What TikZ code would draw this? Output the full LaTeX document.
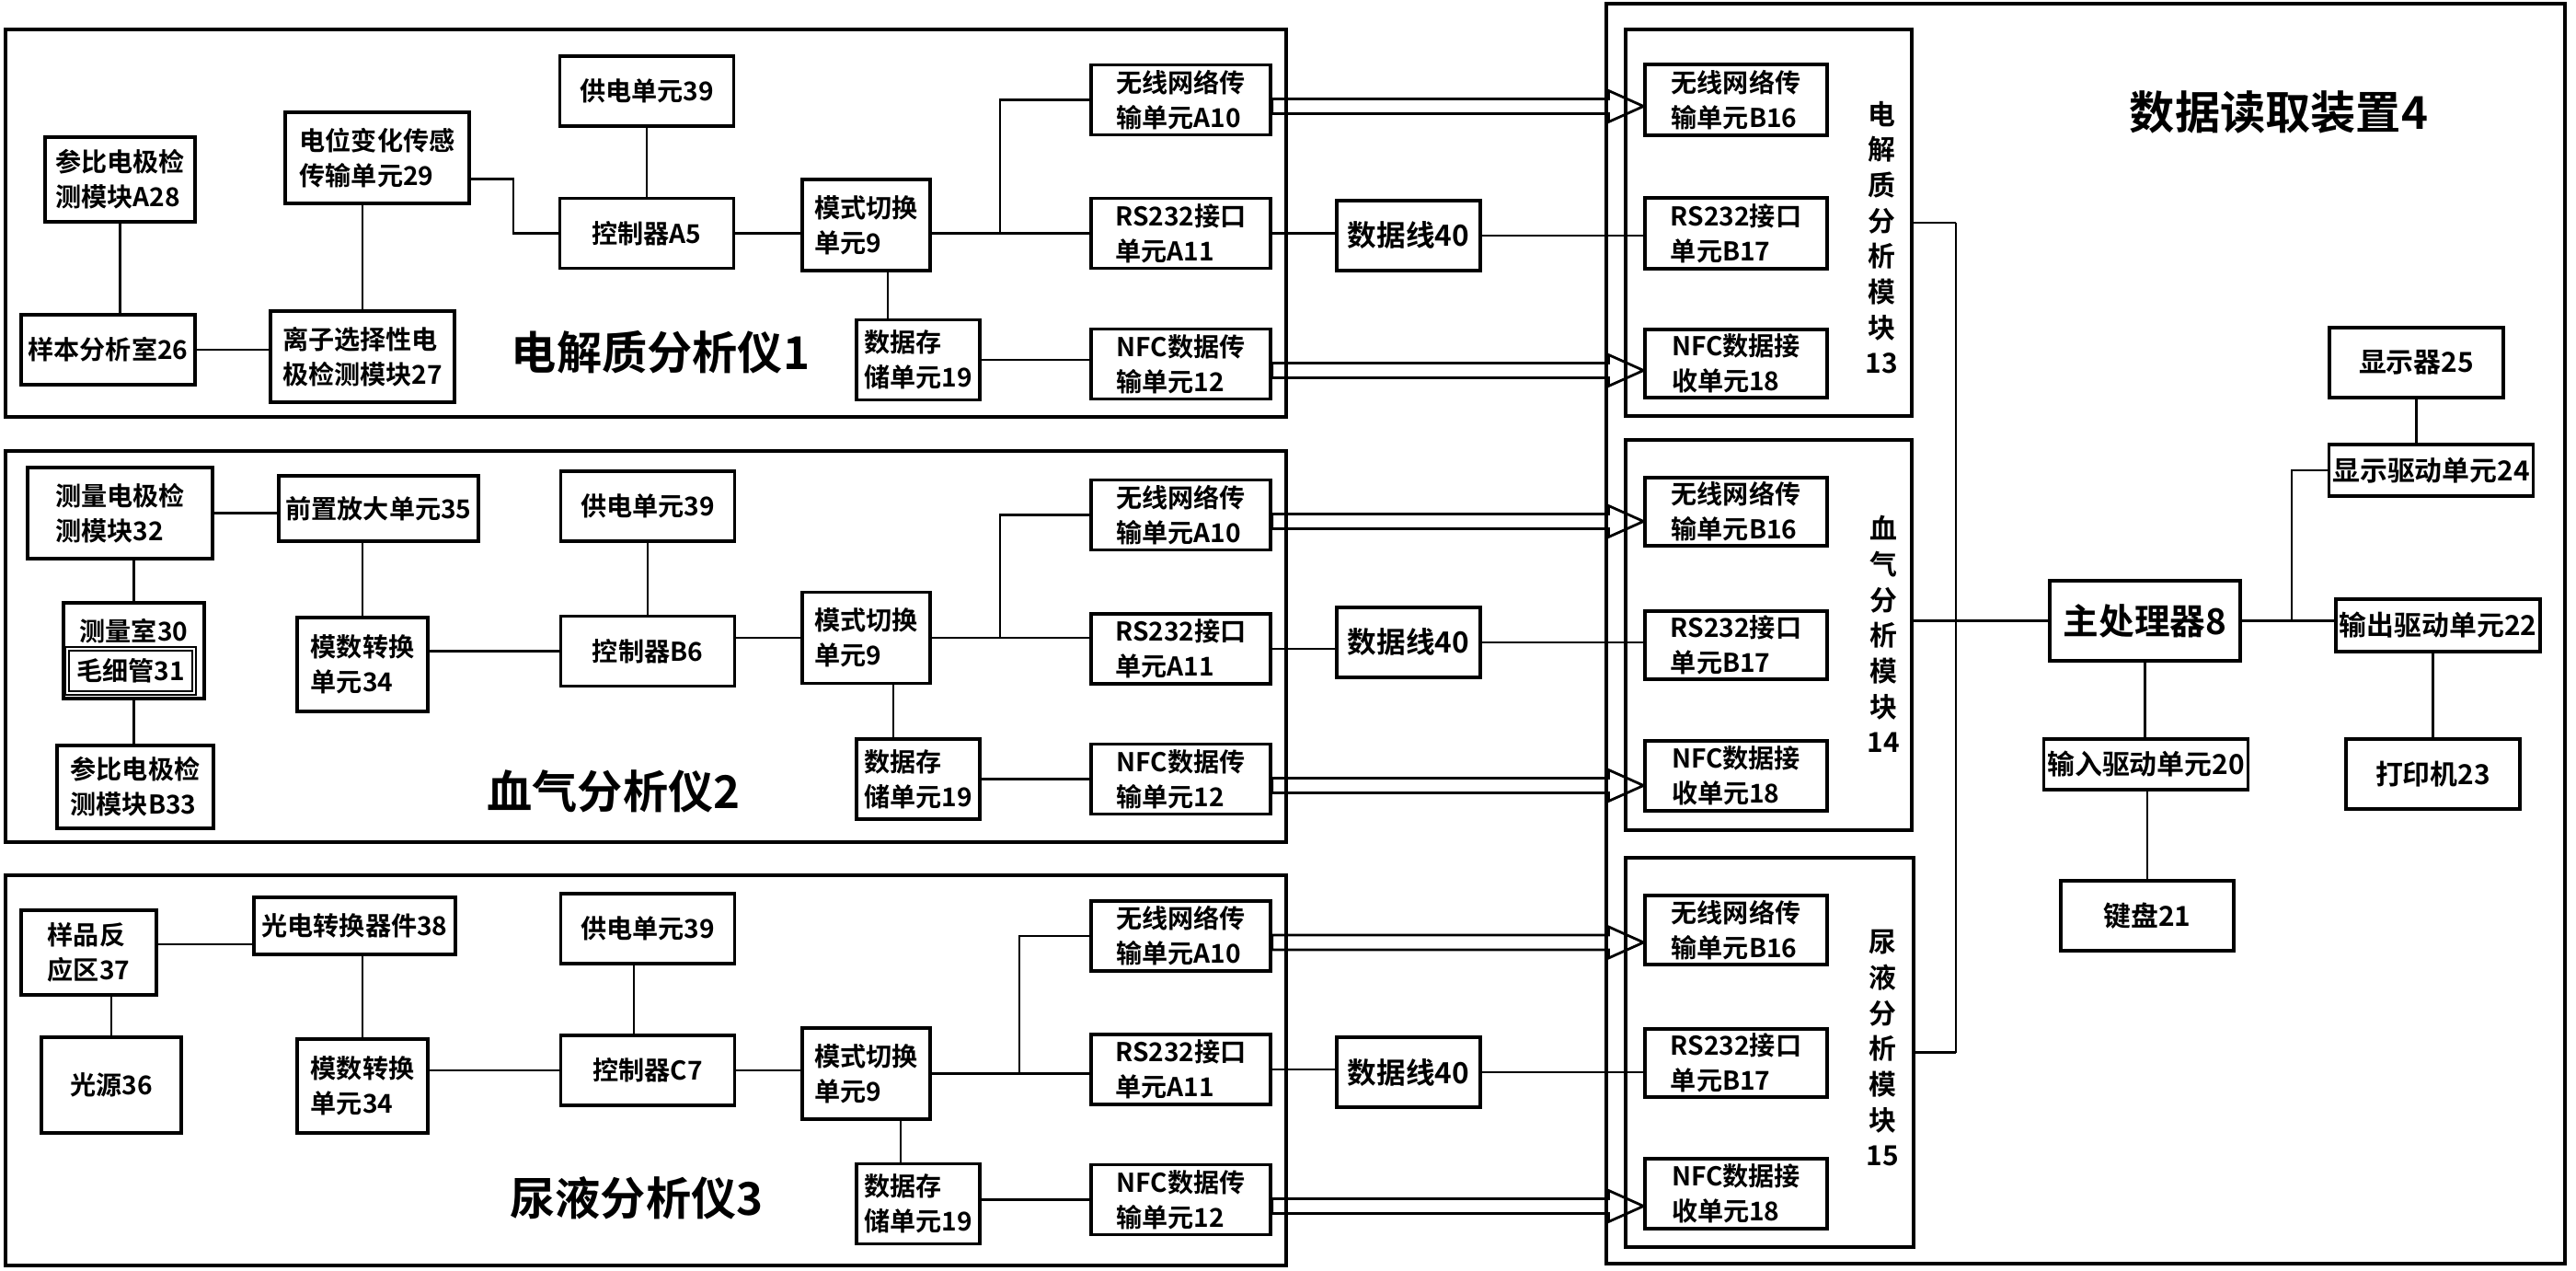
\documentclass[tikz,border=0pt]{standalone}
\usepackage{fontspec}
\setmainfont{Noto Sans CJK SC}[BoldFont={Noto Sans CJK SC Bold}]
\usepackage{tikz}
\usetikzlibrary{calc}
\tikzset{
  sz/.style 2 args={minimum width=#1cm, minimum height=#2cm},
  box/.style={draw, line width=0.9pt, inner sep=1pt, align=left,
    font=\bfseries\fontsize{8}{10.8}\selectfont},
  txbox/.style={box, sz={1.95}{0.76}},
  rxbox/.style={box, sz={1.98}{0.75}},
  modebox/.style={box, sz={1.39}{0.99}},
  storebox/.style={box, sz={1.34}{0.87}},
  unitbox/.style={box, sz={1.89}{0.76}},
  cablebox/.style={box, sz={1.56}{0.76}, font=\bfseries\fontsize{9}{11}\selectfont},
  readbox/.style={box, font=\bfseries\fontsize{8.5}{10.8}\selectfont},
  frame/.style={draw, line width=0.9pt},
  modlabel/.style={align=center, font=\bfseries\fontsize{8.5}{11}\selectfont},
  title/.style={font=\bfseries\fontsize{14}{16}\selectfont},
  link/.style={line width=0.6pt},
  pipe/.style={line width=0.8pt},
}
\newcommand{\hollowarrow}[2]{%
  \draw[pipe] let \p1=(#1.east), \p2=(#2.west) in
    (\x1,\y1+0.1mm) -- (\x2-3.8mm,\y1+0.1mm) -- (\x2-3.8mm,\y1+1mm)
    -- (\x2,\y1-0.7mm) -- (\x2-3.8mm,\y1-2.4mm) -- (\x2-3.8mm,\y1-1.5mm)
    -- (\x1,\y1-1.5mm) -- cycle;}

\begin{document}
\begin{tikzpicture}
  \useasboundingbox (0,0) rectangle (28,-13.81);
  % electrolyte analyser
  \draw[frame] (0.06,-0.32) rectangle (13.98,-4.53);
  \node[box, sz={1.63}{0.92}] (ref28) at (1.305,-1.95) {参比电极检\\测模块A28};
  \node[box, sz={1.89}{0.76}] (room26) at (1.175,-3.80) {样本分析室26};
  \node[box, sz={2.00}{0.99}] (sens29) at (4.10,-1.715) {电位变化传感\\传输单元29};
  \node[box, sz={2.00}{0.99}] (ise27) at (3.94,-3.875) {离子选择性电\\极检测模块27};
  \node[unitbox] (pow1) at (7.03,-0.99) {供电单元39};
  \node[unitbox] (ctrl1) at (7.03,-2.535) {控制器A5};
  \node[modebox] (mode1) at (9.415,-2.445) {模式切换\\单元9};
  \node[storebox] (store1) at (9.98,-3.91) {数据存\\储单元19};
  \node[txbox] (wifi1) at (12.835,-1.085) {无线网络传\\输单元A10};
  \node[txbox] (rs1) at (12.835,-2.535) {RS232接口\\单元A11};
  \node[txbox] (nfc1) at (12.835,-3.955) {NFC数据传\\输单元12};
  \node[cablebox] (cable1) at (15.31,-2.56) {数据线40};
  \node[title] (title1) at (7.18,-3.83) {电解质分析仪1};
  \draw[link] (ref28.south) -- (ref28.south |- room26.north);
  \draw[link] (room26.east) -- (room26.east -| ise27.west);
  \draw[link] (ise27.north) -- (ise27.north |- sens29.south);
  \draw[link] ([yshift=-2.3mm]sens29.east) -- ++(0.46,0) |- (ctrl1.west);
  \draw[link] (pow1) -- (ctrl1);
  \draw[link] (ctrl1.east) -- (ctrl1.east -| mode1.west);
  \draw[link] (mode1.east |- rs1.west) -- (rs1.west);
  \coordinate (fork1) at (10.87,-2.535);
  \draw[link] (fork1) |- (wifi1.west);
  \draw[link] ([xshift=-3.3mm]store1.north) -- ([xshift=-3.3mm]store1.north |- mode1.south);
  \draw[link] (store1.east) -- (store1.east -| nfc1.west);
  \draw[link] (rs1.east) -- (rs1.east -| cable1.west);

  % blood gas analyser
  \draw[frame] (0.06,-4.90) rectangle (13.98,-9.15);
  \node[box, sz={2.01}{0.99}] (meas32) at (1.305,-5.575) {测量电极检\\测模块32};
  \node[box, sz={2.17}{0.71}] (amp35) at (4.115,-5.525) {前置放大单元35};
  \node[unitbox] (pow2) at (7.04,-5.50) {供电单元39};
  \node[box, sz={1.53}{1.04}] (chamber30) at (1.455,-7.07) {};
  \node[box, draw=none] (chamber30t) at (1.455,-6.86) {测量室30};
  \node[box, line width=0.6pt, double, double distance=0.4pt, sz={1.38}{0.48}] (cap31) at (1.42,-7.29) {毛细管31};
  \node[box, sz={1.70}{0.90}] (refB33) at (1.47,-8.55) {参比电极检\\测模块B33};
  \node[box, sz={1.42}{1.02}] (adc2) at (3.94,-7.22) {模数转换\\单元34};
  \node[unitbox] (ctrl2) at (7.04,-7.075) {控制器B6};
  \node[modebox] (mode2) at (9.415,-6.93) {模式切换\\单元9};
  \node[storebox] (store2) at (9.98,-8.465) {数据存\\储单元19};
  \node[txbox] (wifi2) at (12.835,-5.595) {无线网络传\\输单元A10};
  \node[txbox] (rs2) at (12.835,-7.05) {RS232接口\\单元A11};
  \node[txbox] (nfc2) at (12.835,-8.465) {NFC数据传\\输单元12};
  \node[cablebox] (cable2) at (15.31,-6.98) {数据线40};
  \node[title] (title2) at (6.67,-8.60) {血气分析仪2};
  \draw[link] (meas32.east) -- (meas32.east -| amp35.west);
  \draw[link] (chamber30.north) -- (chamber30.north |- meas32.south);
  \draw[link] (chamber30.south) -- (chamber30.south |- refB33.north);
  \draw[link] (adc2.north) -- (adc2.north |- amp35.south);
  \draw[link] (adc2.east |- ctrl2.west) -- (ctrl2.west);
  \draw[link] (pow2) -- (ctrl2);
  \draw[link] (ctrl2.east |- mode2.west) -- (mode2.west);
  \draw[link] (mode2.east) -- (mode2.east -| rs2.west);
  \coordinate (fork2) at (10.87,-6.93);
  \draw[link] (fork2) |- (wifi2.west);
  \draw[link] ([xshift=-2.7mm]store2.north) -- ([xshift=-2.7mm]store2.north |- mode2.south);
  \draw[link] (store2.east) -- (store2.east -| nfc2.west);
  \draw[link] (rs2.east) -- (rs2.east -| cable2.west);

  % urine analyser
  \draw[frame] (0.06,-9.51) rectangle (13.98,-13.75);
  \node[box, sz={1.47}{0.92}] (react37) at (0.965,-10.35) {样品反\\应区37};
  \node[box, sz={2.19}{0.62}] (photo38) at (3.855,-10.06) {光电转换器件38};
  \node[unitbox] (pow3) at (7.04,-10.09) {供电单元39};
  \node[box, sz={1.52}{1.04}] (light36) at (1.21,-11.79) {光源36};
  \node[box, sz={1.42}{1.02}] (adc3) at (3.94,-11.80) {模数转换\\单元34};
  \node[unitbox] (ctrl3) at (7.04,-11.63) {控制器C7};
  \node[modebox] (mode3) at (9.415,-11.665) {模式切换\\单元9};
  \node[storebox] (store3) at (9.98,-13.08) {数据存\\储单元19};
  \node[txbox] (wifi3) at (12.835,-10.17) {无线网络传\\输单元A10};
  \node[txbox] (rs3) at (12.835,-11.62) {RS232接口\\单元A11};
  \node[txbox] (nfc3) at (12.835,-13.035) {NFC数据传\\输单元12};
  \node[cablebox] (cable3) at (15.31,-11.65) {数据线40};
  \node[title] (title3) at (6.92,-13.02) {尿液分析仪3};
  \draw[link] ([yshift=0.9mm]react37.east) -- ([yshift=0.9mm]react37.east -| photo38.west);
  \draw[link] (light36.north) -- (light36.north |- react37.south);
  \draw[link] (adc3.north) -- (adc3.north |- photo38.south);
  \draw[link] (adc3.east |- ctrl3.west) -- (ctrl3.west);
  \draw[link] ([xshift=-1.5mm]pow3.south) -- ([xshift=-1.5mm]ctrl3.north);
  \draw[link] (ctrl3.east) -- (ctrl3.east -| mode3.west);
  \draw[link] (mode3.east) -- (mode3.east -| rs3.west);
  \coordinate (fork3) at (11.08,-11.665);
  \draw[link] (fork3) |- (wifi3.west);
  \draw[link] ([xshift=-1.9mm]store3.north) -- ([xshift=-1.9mm]store3.north |- mode3.south);
  \draw[link] (nfc3.west -| store3.east) -- (nfc3.west);
  \draw[link] (rs3.east) -- (rs3.east -| cable3.west);

  % data reader
  \draw[frame] (17.46,-0.04) rectangle (27.88,-13.73);
  \node[title] (title4) at (24.77,-1.22) {数据读取装置4};
  \node[frame, sz={3.11}{4.20}] (mod13) at (19.225,-2.42) {};
  \node[frame, sz={3.11}{4.24}] (mod14) at (19.225,-6.90) {};
  \node[frame, sz={3.13}{4.23}] (mod15) at (19.235,-11.435) {};
  \node[modlabel] (mod13t) at (20.45,-2.58) {电\\解\\质\\分\\析\\模\\块\\13};
  \node[modlabel] (mod14t) at (20.47,-6.89) {血\\气\\分\\析\\模\\块\\14};
  \node[modlabel] (mod15t) at (20.46,-11.39) {尿\\液\\分\\析\\模\\块\\15};
  \node[rxbox, sz={1.98}{0.77}] (wifiB1) at (18.87,-1.085) {无线网络传\\输单元B16};
  \node[rxbox, sz={1.98}{0.77}] (rsB1) at (18.87,-2.535) {RS232接口\\单元B17};
  \node[rxbox, sz={1.98}{0.74}] (nfcB1) at (18.87,-3.95) {NFC数据接\\收单元18};
  \node[rxbox, sz={1.98}{0.74}] (wifiB2) at (18.87,-5.56) {无线网络传\\输单元B16};
  \node[rxbox, sz={1.98}{0.74}] (rsB2) at (18.87,-7.01) {RS232接口\\单元B17};
  \node[rxbox, sz={1.98}{0.76}] (nfcB2) at (18.87,-8.43) {NFC数据接\\收单元18};
  \node[rxbox] (wifiB3) at (18.87,-10.105) {无线网络传\\输单元B16};
  \node[rxbox, sz={1.98}{0.74}] (rsB3) at (18.87,-11.55) {RS232接口\\单元B17};
  \node[rxbox, sz={1.98}{0.76}] (nfcB3) at (18.87,-12.97) {NFC数据接\\收单元18};
  \node[readbox, sz={1.89}{0.76}] (disp25) at (26.265,-3.94) {显示器25};
  \node[readbox, sz={2.21}{0.56}] (disp24) at (26.425,-5.11) {显示驱动单元24};
  \node[box, sz={2.07}{0.87}, font=\bfseries\fontsize{11}{13}\selectfont] (main8) at (23.315,-6.745) {主处理器8};
  \node[readbox, sz={2.22}{0.57}] (out22) at (26.50,-6.795) {输出驱动单元22};
  \node[readbox, sz={2.21}{0.55}] (in20) at (23.325,-8.305) {输入驱动单元20};
  \node[readbox, sz={1.89}{0.76}] (prn23) at (26.445,-8.41) {打印机23};
  \node[readbox, sz={1.88}{0.76}] (key21) at (23.34,-9.95) {键盘21};

  % links into the reader
  \draw[link] (cable1.east) -- (cable1.east -| rsB1.west);
  \draw[link] (cable2.east) -- (cable2.east -| rsB2.west);
  \draw[link] (cable3.east) -- (cable3.east -| rsB3.west);
  \hollowarrow{wifi1}{wifiB1}
  \hollowarrow{nfc1}{nfcB1}
  \hollowarrow{wifi2}{wifiB2}
  \hollowarrow{nfc2}{nfcB2}
  \hollowarrow{wifi3}{wifiB3}
  \hollowarrow{nfc3}{nfcB3}
  \coordinate (bus) at (21.26,0);
  \draw[link] (mod13.east) -- (mod13.east -| bus);
  \draw[link] (mod15.east) -- (mod15.east -| bus);
  \draw[link] (mod13.east -| bus) -- (mod15.east -| bus);
  \draw[link] (mod14.east |- main8.west) -- (main8.west);
  \draw[link] (main8.east) -- (main8.east -| out22.west);
  \draw[link] ([xshift=5.4mm]main8.east) |- (disp24.west);
  \draw[link] (disp25.south) -- (disp25.south |- disp24.north);
  \draw[link] (main8.south) -- (main8.south |- in20.north);
  \draw[link] (key21.north) -- (key21.north |- in20.south);
  \draw[link] (prn23.north) -- (prn23.north |- out22.south);
\end{tikzpicture}
\end{document}
